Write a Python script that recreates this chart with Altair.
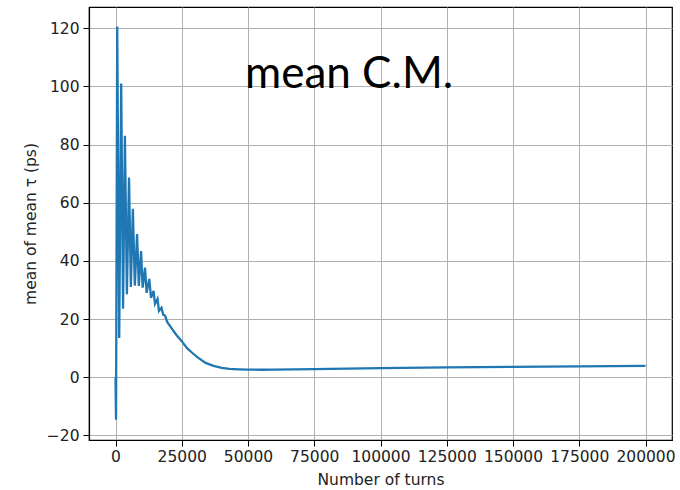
import altair as alt
import pandas as pd

# Data (turn number, mean of mean tau in ps)
turns = [0, 200, 650, 1400, 2150, 2850, 3550, 4300, 5100, 5800, 6550, 7300,
         8140, 8800, 9640, 10240, 11140, 11740, 12750, 13400, 14360, 14900,
         15860, 16400, 17360, 18000, 18700, 19500, 21400, 23000, 25000, 27000,
         28900, 31000, 34000, 37000, 40100, 43000, 46500, 50000, 55000, 60000,
         75000, 100000, 125000, 150000, 175000, 200000]
tau = [0.0, -14.6, 120.6, 13.5, 101.0, 23.5, 83.0, 28.5, 68.7, 31.0, 57.9, 31.5,
       49.2, 31.4, 43.4, 30.8, 37.7, 29.0, 33.8, 27.3, 29.7, 25.2,
       26.9, 22.8, 23.9, 21.5, 21.2, 19.0, 16.5, 14.5, 12.4, 10.0,
       8.4, 6.8, 4.9, 3.9, 3.2, 2.85, 2.7, 2.6, 2.55, 2.6,
       2.8, 3.1, 3.35, 3.55, 3.75, 3.9]

x_ticks = [0, 25000, 50000, 75000, 100000, 125000, 150000, 175000, 200000]
y_ticks = [-20, 0, 20, 40, 60, 80, 100, 120]

df = pd.DataFrame({"turns": turns, "tau": tau})

chart = alt.Chart(df).mark_line(color="#1f77b4", strokeWidth=2.3, clip=True).encode(
    x=alt.X("turns:Q",
            scale=alt.Scale(domain=[-10000, 210000], nice=False, zero=False),
            axis=alt.Axis(values=x_ticks, title="Number of turns", format="d",
                          labelPadding=3, titlePadding=8)),
    y=alt.Y("tau:Q",
            scale=alt.Scale(domain=[-21.6, 127.3], nice=False, zero=False),
            axis=alt.Axis(values=y_ticks, title="mean of mean τ (ps)", format="d",
                          labelPadding=4, titlePadding=8)),
).properties(
    width=583,
    height=433,
    padding={"left": 89, "top": 7, "right": 8, "bottom": 50},
    autosize="none",
    background="white",
    title=alt.TitleParams(
        "mean C.M.", font="Lato", fontSize=44, fontWeight="normal", color="black",
        anchor="start", frame="group", orient="top", offset=0, dx=156, dy=125,
        baseline="alphabetic",
    ),
).configure_view(
    stroke="black", strokeWidth=1.2
).configure_axis(
    domainColor="black", domainWidth=1.2,
    tickColor="black", tickSize=6, tickWidth=1,
    grid=True, gridColor="#b0b0b0", gridWidth=1,
    labelFont="DejaVu Sans", labelFontSize=15.5, labelColor="#222222",
    titleFont="DejaVu Sans", titleFontSize=15.5, titleFontWeight="normal",
    titleColor="#222222",
)

chart.save("out.html", embed_options={"renderer": "svg", "actions": False})
